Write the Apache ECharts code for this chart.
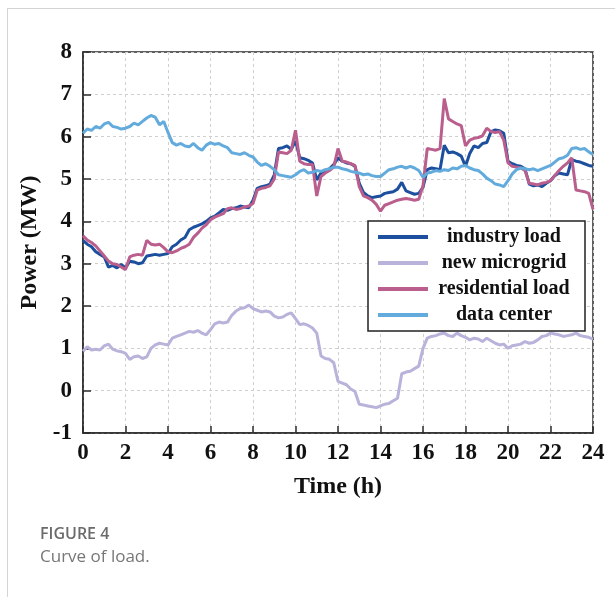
<!DOCTYPE html>
<html>
<head>
<meta charset="utf-8">
<script src="https://cdn.jsdelivr.net/npm/echarts@6/dist/echarts.min.js"></script>
<style>
  html, body { margin: 0; padding: 0; background: #fff; }
  #chart { width: 615px; height: 597px; }
</style>
</head>
<body>
<div id="chart"></div>
<script>
// Sampling times (h), every 0.2 h over the day
const hours = [
  0.0, 0.2, 0.4, 0.6, 0.8, 1.0, 1.2, 1.4, 1.6, 1.8,
  2.0, 2.2, 2.4, 2.6, 2.8, 3.0, 3.2, 3.4, 3.6, 3.8,
  4.0, 4.2, 4.4, 4.6, 4.8, 5.0, 5.2, 5.4, 5.6, 5.8,
  6.0, 6.2, 6.4, 6.6, 6.8, 7.0, 7.2, 7.4, 7.6, 7.8,
  8.0, 8.2, 8.4, 8.6, 8.8, 9.0, 9.2, 9.4, 9.6, 9.8,
  10.0, 10.2, 10.4, 10.6, 10.8, 11.0, 11.2, 11.4, 11.6, 11.8,
  12.0, 12.2, 12.4, 12.6, 12.8, 13.0, 13.2, 13.4, 13.6, 13.8,
  14.0, 14.2, 14.4, 14.6, 14.8, 15.0, 15.2, 15.4, 15.6, 15.8,
  16.0, 16.2, 16.4, 16.6, 16.8, 17.0, 17.2, 17.4, 17.6, 17.8,
  18.0, 18.2, 18.4, 18.6, 18.8, 19.0, 19.2, 19.4, 19.6, 19.8,
  20.0, 20.2, 20.4, 20.6, 20.8, 21.0, 21.2, 21.4, 21.6, 21.8,
  22.0, 22.2, 22.4, 22.6, 22.8, 23.0, 23.2, 23.4, 23.6, 23.8,
  24.0
];

// Load of each user group (MW)
const industryLoad = [
  3.55, 3.46, 3.40, 3.28, 3.22, 3.16, 2.92, 2.96, 2.90, 2.98,
  2.90, 3.06, 3.04, 3.00, 3.02, 3.18, 3.20, 3.22, 3.20, 3.22,
  3.24, 3.40, 3.46, 3.56, 3.62, 3.80, 3.86, 3.90, 3.94, 4.00,
  4.08, 4.12, 4.20, 4.28, 4.26, 4.30, 4.32, 4.36, 4.34, 4.32,
  4.50, 4.78, 4.82, 4.84, 4.88, 5.10, 5.72, 5.74, 5.78, 5.70,
  5.90, 5.50, 5.48, 5.44, 5.38, 4.98, 5.14, 5.20, 5.24, 5.34,
  5.50, 5.42, 5.38, 5.36, 5.30, 4.90, 4.68, 4.60, 4.56, 4.58,
  4.60, 4.66, 4.68, 4.70, 4.76, 4.92, 4.72, 4.68, 4.64, 4.66,
  4.80, 5.22, 5.26, 5.24, 5.22, 5.80, 5.62, 5.64, 5.60, 5.54,
  5.30, 5.60, 5.78, 5.74, 5.84, 5.86, 6.12, 6.16, 6.14, 6.08,
  5.42, 5.36, 5.32, 5.30, 5.24, 4.88, 4.84, 4.86, 4.82, 4.90,
  4.96, 5.08, 5.14, 5.12, 5.10, 5.46, 5.42, 5.40, 5.36, 5.32,
  5.30
];

const newMicrogrid = [
  0.93, 1.04, 0.96, 0.98, 0.96, 1.06, 1.10, 0.98, 0.94, 0.92,
  0.88, 0.74, 0.80, 0.82, 0.76, 0.80, 1.00, 1.08, 1.12, 1.10,
  1.08, 1.24, 1.28, 1.32, 1.36, 1.40, 1.38, 1.42, 1.36, 1.32,
  1.44, 1.58, 1.62, 1.60, 1.62, 1.78, 1.88, 1.94, 1.96, 2.02,
  1.94, 1.90, 1.86, 1.88, 1.86, 1.76, 1.72, 1.74, 1.80, 1.84,
  1.70, 1.56, 1.58, 1.54, 1.48, 1.36, 0.82, 0.76, 0.74, 0.66,
  0.22, 0.18, 0.14, 0.04, -0.02, -0.32, -0.34, -0.36, -0.38, -0.40,
  -0.36, -0.32, -0.30, -0.24, -0.18, 0.40, 0.44, 0.46, 0.52, 0.58,
  1.00, 1.24, 1.28, 1.30, 1.34, 1.36, 1.30, 1.28, 1.36, 1.30,
  1.26, 1.20, 1.24, 1.22, 1.16, 1.24, 1.18, 1.12, 1.08, 1.10,
  1.00, 1.06, 1.08, 1.10, 1.16, 1.12, 1.14, 1.20, 1.28, 1.30,
  1.36, 1.34, 1.32, 1.28, 1.30, 1.32, 1.36, 1.30, 1.28, 1.26,
  1.22
];

const residentialLoad = [
  3.66, 3.56, 3.50, 3.42, 3.30, 3.18, 3.06, 3.00, 2.98, 2.92,
  2.86, 3.16, 3.20, 3.22, 3.20, 3.55, 3.46, 3.44, 3.46, 3.38,
  3.28, 3.26, 3.30, 3.36, 3.40, 3.46, 3.62, 3.72, 3.84, 3.92,
  4.04, 4.10, 4.14, 4.18, 4.30, 4.32, 4.28, 4.30, 4.34, 4.36,
  4.42, 4.74, 4.78, 4.80, 4.84, 5.00, 5.64, 5.62, 5.60, 5.68,
  6.15, 5.42, 5.36, 5.34, 5.34, 4.60, 5.06, 5.14, 5.20, 5.28,
  5.72, 5.42, 5.40, 5.36, 5.32, 4.82, 4.60, 4.56, 4.50, 4.40,
  4.24, 4.38, 4.42, 4.46, 4.50, 4.52, 4.54, 4.52, 4.50, 4.52,
  4.84, 5.72, 5.70, 5.68, 5.72, 6.90, 6.42, 6.36, 6.30, 6.26,
  5.78, 5.92, 5.96, 5.98, 6.02, 6.20, 6.12, 6.10, 6.12, 5.92,
  5.38, 5.30, 5.28, 5.26, 5.20, 4.90, 4.88, 4.86, 4.90, 4.92,
  4.96, 5.08, 5.20, 5.30, 5.38, 5.50, 4.74, 4.72, 4.70, 4.66,
  4.28
];

const dataCenter = [
  6.08, 6.18, 6.15, 6.24, 6.20, 6.30, 6.34, 6.24, 6.22, 6.18,
  6.20, 6.24, 6.32, 6.28, 6.36, 6.44, 6.50, 6.46, 6.28, 6.36,
  6.10, 5.86, 5.80, 5.84, 5.78, 5.76, 5.84, 5.74, 5.68, 5.80,
  5.86, 5.82, 5.84, 5.78, 5.74, 5.62, 5.60, 5.58, 5.62, 5.56,
  5.52, 5.40, 5.32, 5.36, 5.30, 5.22, 5.10, 5.08, 5.06, 5.04,
  5.10, 5.18, 5.22, 5.14, 5.16, 5.20, 5.18, 5.22, 5.24, 5.28,
  5.28, 5.24, 5.22, 5.18, 5.16, 5.14, 5.10, 5.12, 5.08, 5.06,
  5.06, 5.14, 5.22, 5.24, 5.28, 5.30, 5.26, 5.30, 5.26, 5.20,
  5.04, 5.14, 5.16, 5.20, 5.18, 5.22, 5.20, 5.26, 5.24, 5.30,
  5.32, 5.26, 5.22, 5.20, 5.12, 5.02, 4.96, 4.88, 4.86, 4.82,
  4.96, 5.12, 5.22, 5.26, 5.24, 5.22, 5.24, 5.20, 5.24, 5.28,
  5.32, 5.40, 5.48, 5.50, 5.56, 5.72, 5.74, 5.70, 5.72, 5.64,
  5.58
];

const seriesNames = ['industry load', 'new microgrid', 'residential load', 'data center'];
const seriesValues = [industryLoad, newMicrogrid, residentialLoad, dataCenter];
const seriesColors = ['#1c4f9e', '#b9b2da', '#b95e8d', '#62abdc'];

const serifFont = '"Liberation Serif", "Times New Roman", serif';

const chart = echarts.init(document.getElementById('chart'), null, { renderer: 'canvas' });

chart.setOption({
  animation: false,
  backgroundColor: '#ffffff',
  grid: {
    left: 83, top: 52, width: 510, height: 381,
    show: true, borderColor: '#2b2b2b', borderWidth: 1.5,
    backgroundColor: 'transparent'
  },
  xAxis: {
    type: 'value', min: 0, max: 24, interval: 2,
    name: 'Time (h)', nameLocation: 'middle', nameGap: 42,
    nameTextStyle: { fontFamily: serifFont, fontWeight: 'bold', fontSize: 24, color: '#111' },
    axisLine: { show: true, onZero: false, lineStyle: { color: '#2b2b2b', width: 1.5 } },
    axisTick: { show: true, inside: true, length: 7, lineStyle: { color: '#2b2b2b', width: 1.5 } },
    axisLabel: { fontFamily: serifFont, fontWeight: 'bold', fontSize: 23, color: '#111', margin: 9 },
    splitLine: { show: true, lineStyle: { color: '#cfcfcf', type: [3, 3], width: 1 } }
  },
  yAxis: {
    type: 'value', min: -1, max: 8, interval: 1,
    name: 'Power (MW)', nameLocation: 'middle', nameGap: 36,
    nameTextStyle: { fontFamily: serifFont, fontWeight: 'bold', fontSize: 24, color: '#111' },
    axisLine: { show: true, onZero: false, lineStyle: { color: '#2b2b2b', width: 1.5 } },
    axisTick: { show: true, inside: true, length: 8, lineStyle: { color: '#2b2b2b', width: 1.5 } },
    axisLabel: { fontFamily: serifFont, fontWeight: 'bold', fontSize: 23, color: '#111', margin: 11 },
    splitLine: { show: true, lineStyle: { color: '#cfcfcf', type: [3, 3], width: 1 } }
  },
  legend: {
    left: 368, top: 221,
    orient: 'vertical',
    backgroundColor: '#ffffff',
    borderColor: '#222',
    borderWidth: 1.5,
    borderRadius: 0,
    padding: [6, 10, 6, 10],
    itemWidth: 50, itemHeight: 4, itemGap: 6,
    icon: 'rect',
    data: seriesNames,
    formatter: name => '{t|' + name + '}',
    textStyle: {
      rich: {
        t: {
          fontFamily: serifFont, fontWeight: 'bold', fontSize: 20, color: '#111',
          width: 142, align: 'center', lineHeight: 20
        }
      }
    }
  },
  graphic: [
    { type: 'line', shape: { x1: 7.5, y1: 8, x2: 7.5, y2: 597 }, style: { stroke: '#d4d4d4', lineWidth: 1 } },
    { type: 'line', shape: { x1: 7, y1: 8.5, x2: 615, y2: 8.5 }, style: { stroke: '#d4d4d4', lineWidth: 1 } },
    { type: 'text', left: 40, top: 526, style: { text: 'FIGURE 4', font: '600 16px "Open Sans", "Noto Sans", sans-serif', fill: '#6b6b6b' } },
    { type: 'text', left: 40, top: 549, style: { text: 'Curve of load.', font: '400 17px "Open Sans", "Noto Sans", sans-serif', fill: '#777777' } }
  ],
  series: seriesNames.map((name, k) => ({
    name: name,
    type: 'line',
    showSymbol: false,
    color: seriesColors[k],
    lineStyle: { width: 3, color: seriesColors[k] },
    data: hours.map((h, i) => [h, seriesValues[k][i]])
  }))
});
</script>
</body>
</html>
